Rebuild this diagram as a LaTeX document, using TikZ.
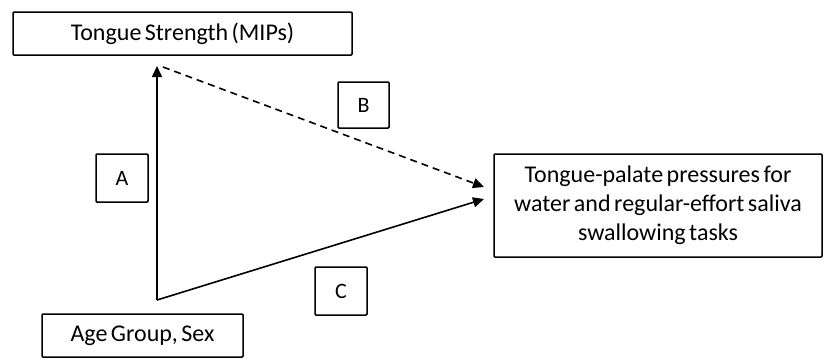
\documentclass[tikz,border=0pt]{standalone}
\usepackage{fontspec}
\setmainfont{Carlito}
\usetikzlibrary{arrows.meta}
\newcommand{\tightwords}{\spaceskip=3.5pt plus 1pt minus 1pt\relax}
\begin{document}
\begin{tikzpicture}[x=1pt,y=-1pt,
  boxstyle/.style={draw, line width=1.5pt, rounded corners=1pt, inner sep=0pt, font=\fontsize{24}{29}\selectfont\tightwords, align=center},
  conn/.style={line width=1.6pt, -{Triangle[length=11pt,width=10pt]}}]
\useasboundingbox (0,0) rectangle (840,360);
\node[boxstyle, minimum width=339, minimum height=43] (ts) at (182.5,33.5) {Tongue Strength (MIPs)};
\node[boxstyle, minimum width=201, minimum height=43] (ag) at (142.5,335.5) {Age Group, Sex};
\node[boxstyle, minimum width=328, minimum height=103] (tp) at (658,205.5) {Tongue-palate pressures for\\water and regular-effort saliva\\swallowing tasks};
\node[boxstyle, minimum width=52, minimum height=48, font=\fontsize{22}{24}\selectfont] (la) at (122,178) {A};
\node[boxstyle, minimum width=51, minimum height=46, font=\fontsize{22}{24}\selectfont] (lb) at (363.5,105) {B};
\node[boxstyle, minimum width=52, minimum height=48, font=\fontsize{22}{24}\selectfont] (lc) at (341,291) {C};
\coordinate (base) at (157,300);
\coordinate (top) at (157,66);
\coordinate (dstart) at (163,67);
\coordinate (dend) at (484,187);
\coordinate (send) at (484,199);
\draw[conn] (base) -- (top);
\draw[conn, dash pattern=on 7pt off 5pt] (dstart) -- (dend);
\draw[conn] (base) -- (send);
\end{tikzpicture}
\end{document}
